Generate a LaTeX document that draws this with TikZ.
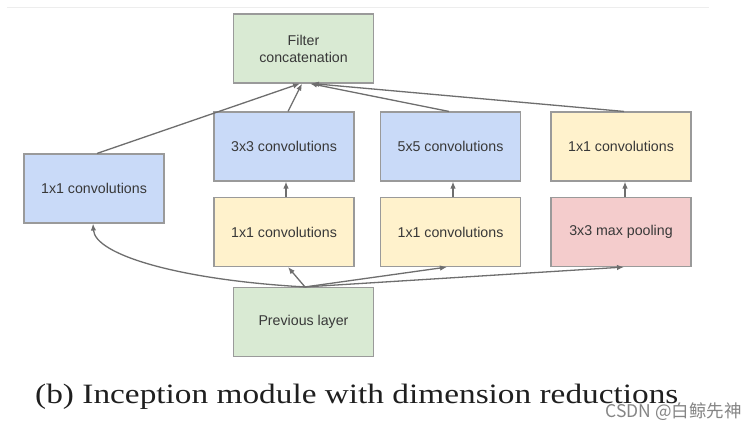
\documentclass[tikz,border=0pt]{standalone}
\usepackage{fontspec}
\setmainfont{Liberation Sans}
\newfontfamily\capfont{Liberation Serif}
\newfontfamily\cjkfont{Noto Sans CJK SC}
\usetikzlibrary{arrows.meta}
\definecolor{gfill}{HTML}{D9EAD3}
\definecolor{bfill}{HTML}{C9DAF8}
\definecolor{yfill}{HTML}{FFF2CC}
\definecolor{rfill}{HTML}{F4CCCC}
\definecolor{edgec}{HTML}{9A9A9A}
\definecolor{linec}{HTML}{6E6E6E}
\definecolor{txtc}{HTML}{383838}
\tikzset{
  blk/.style={draw=edgec, line width=1.1pt, minimum width=140pt, minimum height=69pt,
    inner sep=0pt, font=\fontsize{14.2}{17}\selectfont, text=txtc, align=center},
  gblk/.style={blk, fill=gfill},
  bblk/.style={blk, fill=bfill},
  yblk/.style={blk, fill=yfill},
  rblk/.style={blk, fill=rfill},
  conn/.style={draw=linec, line width=1.3pt, -{Latex[length=7pt,width=5.5pt]}},
}
\begin{document}
\begin{tikzpicture}[x=1pt,y=-1pt]
\useasboundingbox (0,0) rectangle (756,431);
\fill[white] (0,0) rectangle (756,431);
\coordinate (tl) at (7,7);
\coordinate (tr) at (709,7);
\draw[draw=black!7, line width=0.8pt] (tl) -- (tr);

\node[gblk] (fc) at (303.5,48.5) {Filter\\concatenation};
\node[bblk] (c3) at (284,146.5) {3x3 convolutions};
\node[bblk] (c5) at (450.5,146.5) {5x5 convolutions};
\node[yblk] (c1r) at (621,146.5) {1x1 convolutions};
\node[bblk] (c1l) at (94,188.5) {1x1 convolutions};
\node[yblk] (r3) at (284,232) {1x1 convolutions};
\node[yblk] (r5) at (450.5,232) {1x1 convolutions};
\node[rblk] (mp) at (621,232) {3x3 max pooling};
\node[gblk] (prev) at (303.5,322) {Previous layer};

% from previous layer
\draw[conn] ([xshift=1.5pt]prev.north) .. controls (180,280) and (95,255) .. ([xshift=-1pt]c1l.south);
\draw[conn] ([xshift=1.5pt]prev.north) -- ([xshift=4pt]r3.south);
\draw[conn] ([xshift=1.5pt]prev.north) -- ([xshift=-3.5pt]r5.south);
\draw[conn] ([xshift=1.5pt]prev.north) -- ([xshift=3pt]mp.south);

% verticals
\draw[conn] ([xshift=2pt]r3.north) -- ([xshift=2pt]c3.south);
\draw[conn] ([xshift=2.5pt]r5.north) -- ([xshift=2.5pt]c5.south);
\draw[conn] ([xshift=4pt]mp.north) -- ([xshift=4pt]c1r.south);

% to filter concatenation
\draw[conn] ([xshift=3pt]c1l.north) -- ([xshift=-3.5pt]fc.south);
\draw[conn] ([xshift=4pt]c3.north) -- ([xshift=-1.5pt]fc.south);
\draw[conn] ([xshift=-1.5pt]c5.north) -- ([xshift=6.5pt]fc.south);
\draw[conn] ([xshift=3pt]c1r.north) -- ([xshift=8.5pt]fc.south);

\node[anchor=base west, inner sep=0pt, xscale=1.19, text=black!88, font=\capfont\fontsize{28}{32}\selectfont] (cap) at (35,403) {(b) Inception module with dimension reductions};
\node[anchor=base east, inner sep=0pt, text=black!48, font=\cjkfont\fontsize{17.5}{19}\selectfont] (wm) at (742,417) {CSDN @白鲸先神};
\end{tikzpicture}
\end{document}
